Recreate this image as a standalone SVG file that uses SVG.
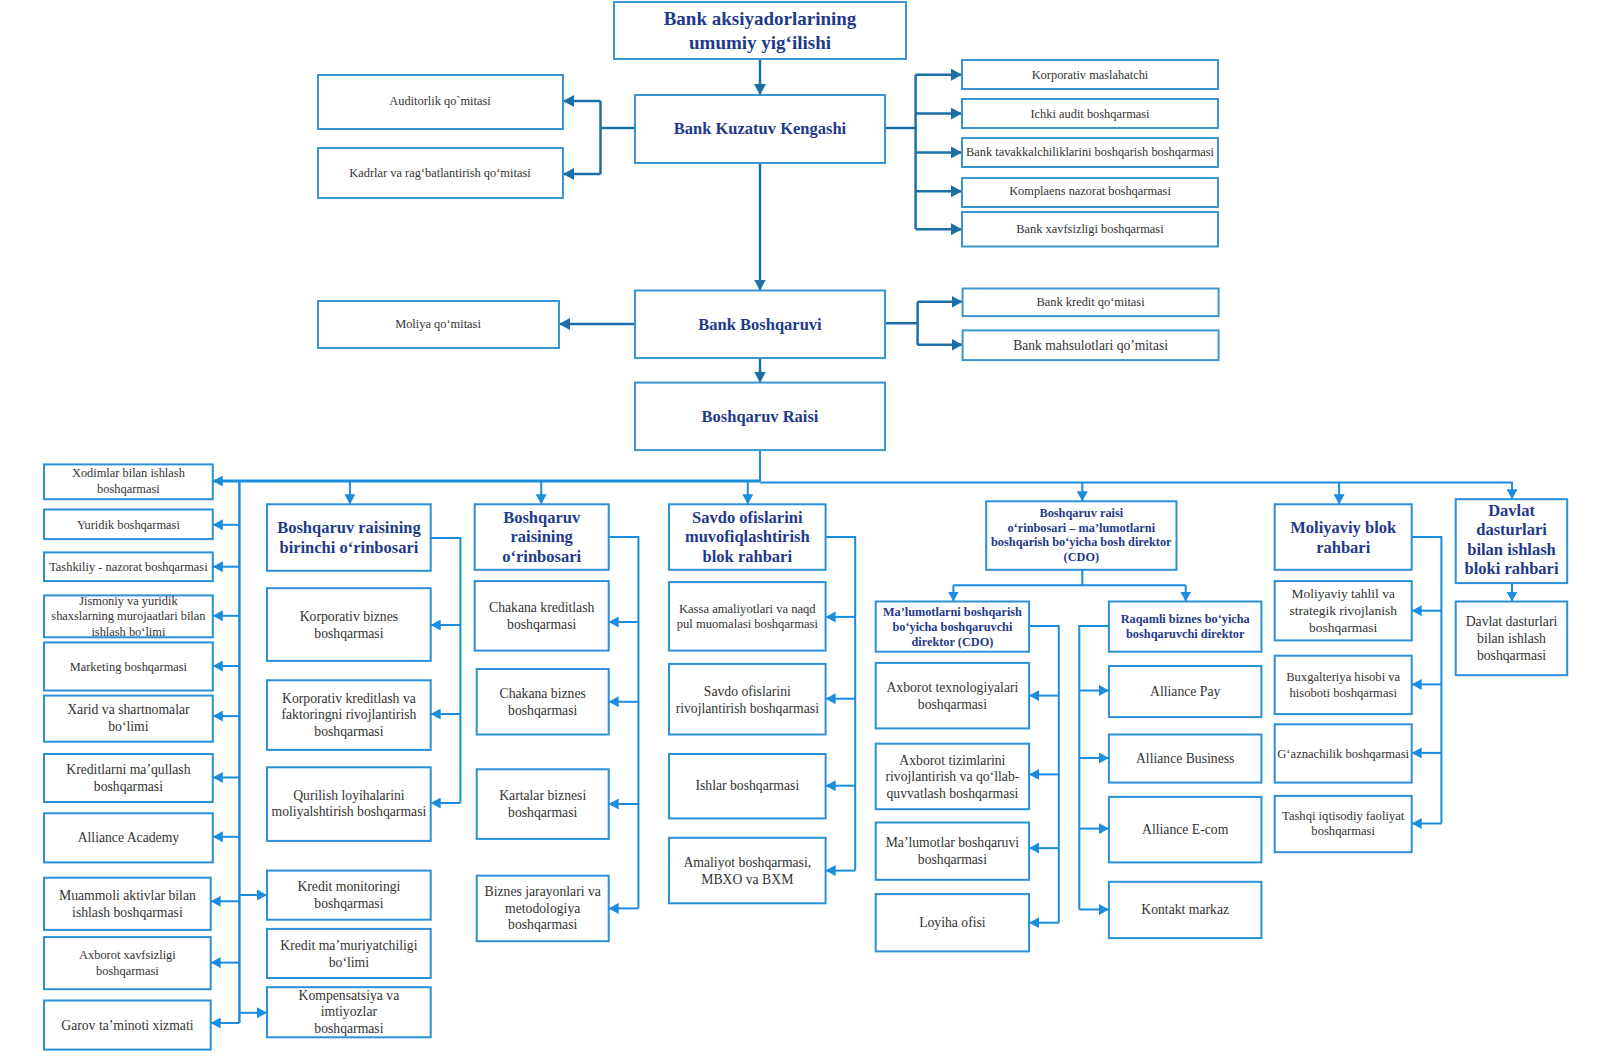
<svg xmlns="http://www.w3.org/2000/svg" width="1604" height="1056" viewBox="0 0 1604 1056">
<defs>
<marker id="ah1" markerUnits="userSpaceOnUse" markerWidth="12" markerHeight="12" refX="11" refY="6" orient="auto"><path d="M0,0 L11,6 L0,12 z" fill="#1b6fa6"/></marker>
<marker id="ah2" markerUnits="userSpaceOnUse" markerWidth="11" markerHeight="11" refX="10" refY="5.5" orient="auto"><path d="M0,0 L10,5.5 L0,11 z" fill="#1a8ddf"/></marker>
</defs>
<style>
.bu{fill:#fff;stroke:#3a96cf;stroke-width:2}
.bl{fill:#fff;stroke:#2a90d8;stroke-width:2}
.t{font-family:"Liberation Serif","Times New Roman",serif;text-anchor:middle;fill:#333}
.h{font-family:"Liberation Serif","Times New Roman",serif;text-anchor:middle;fill:#1f3a8a;font-weight:bold}
.s1{font-size:12.4px}
.s2{font-size:13.7px}
.s3{font-size:12.6px}
.hh{font-size:16.5px}
.hs{font-size:12.3px}
.c1{fill:none;stroke:#1b6fa6;stroke-width:2.5}
.c2{fill:none;stroke:#1a8ddf;stroke-width:2}
.a1{marker-end:url(#ah1)}
.a2{marker-end:url(#ah2)}
</style>
<rect width="1604" height="1056" fill="#fff"/>

<g id="connectors">
<line class="c1 a1" x1="760" y1="59" x2="760" y2="95"/>
<line class="c1" x1="635" y1="128" x2="600.5" y2="128"/>
<line class="c1" x1="600.5" y1="101" x2="600.5" y2="174"/>
<line class="c1 a1" x1="600.5" y1="101" x2="563" y2="101"/>
<line class="c1 a1" x1="600.5" y1="174" x2="563" y2="174"/>
<line class="c1" x1="885" y1="128" x2="915.6" y2="128"/>
<line class="c1" x1="915.6" y1="74.7" x2="915.6" y2="229.2"/>
<line class="c1 a1" x1="915.6" y1="74.7" x2="962" y2="74.7"/>
<line class="c1 a1" x1="915.6" y1="113.6" x2="962" y2="113.6"/>
<line class="c1 a1" x1="915.6" y1="152.4" x2="962" y2="152.4"/>
<line class="c1 a1" x1="915.6" y1="191.3" x2="962" y2="191.3"/>
<line class="c1 a1" x1="915.6" y1="229.2" x2="962" y2="229.2"/>
<line class="c1 a1" x1="760" y1="163" x2="760" y2="290.5"/>
<line class="c1 a1" x1="635" y1="324" x2="559" y2="324"/>
<line class="c1" x1="885" y1="323.3" x2="917.6" y2="323.3"/>
<line class="c1" x1="917.6" y1="301.8" x2="917.6" y2="344.8"/>
<line class="c1 a1" x1="917.6" y1="301.8" x2="962.6" y2="301.8"/>
<line class="c1 a1" x1="917.6" y1="344.8" x2="962.6" y2="344.8"/>
<line class="c1 a1" x1="760" y1="358" x2="760" y2="382.6"/>
<line class="c2" x1="760" y1="450" x2="760" y2="481"/>
<line class="c2 a2" x1="760" y1="481" x2="212.8" y2="481" style="stroke-width:3"/>
<polyline class="c2" points="760,482.5 1512,482.5 1512,490"/>
<line class="c2 a2" x1="349.9" y1="481" x2="349.9" y2="504.3"/>
<line class="c2 a2" x1="541.2" y1="481" x2="541.2" y2="504.3"/>
<line class="c2 a2" x1="747.8" y1="481" x2="747.8" y2="504.3"/>
<line class="c2 a2" x1="1082.3" y1="482.5" x2="1082.3" y2="501.3"/>
<line class="c2 a2" x1="1339.1" y1="482.5" x2="1339.1" y2="504.3"/>
<line class="c2 a2" x1="1512" y1="482.5" x2="1512" y2="499.2"/>
<line class="c2" x1="239.4" y1="481" x2="239.4" y2="1023" style="stroke-width:2.5"/>
<line class="c2 a2" x1="239.4" y1="524.8" x2="212.8" y2="524.8"/>
<line class="c2 a2" x1="239.4" y1="566.7" x2="212.8" y2="566.7"/>
<line class="c2 a2" x1="239.4" y1="615.8" x2="212.8" y2="615.8"/>
<line class="c2 a2" x1="239.4" y1="666" x2="212.8" y2="666"/>
<line class="c2 a2" x1="239.4" y1="716.1" x2="212.8" y2="716.1"/>
<line class="c2 a2" x1="239.4" y1="777.5" x2="212.8" y2="777.5"/>
<line class="c2 a2" x1="239.4" y1="836.8" x2="212.8" y2="836.8"/>
<line class="c2 a2" x1="239.4" y1="901.3" x2="210.7" y2="901.3"/>
<line class="c2 a2" x1="239.4" y1="962.6" x2="210.7" y2="962.6"/>
<line class="c2 a2" x1="239.4" y1="1023" x2="210.7" y2="1023"/>
<line class="c2 a2" x1="239.4" y1="895" x2="267" y2="895"/>
<line class="c2 a2" x1="239.4" y1="1012.8" x2="267" y2="1012.8"/>
<polyline class="c2" points="430.7,538 460.4,538 460.4,803"/>
<line class="c2 a2" x1="460.4" y1="625" x2="430.7" y2="625"/>
<line class="c2 a2" x1="460.4" y1="714" x2="430.7" y2="714"/>
<line class="c2 a2" x1="460.4" y1="803" x2="430.7" y2="803"/>
<polyline class="c2" points="608.7,537 638.4,537 638.4,908.4"/>
<line class="c2 a2" x1="638.4" y1="622" x2="608.7" y2="622"/>
<line class="c2 a2" x1="638.4" y1="701.8" x2="608.7" y2="701.8"/>
<line class="c2 a2" x1="638.4" y1="804" x2="608.7" y2="804"/>
<line class="c2 a2" x1="638.4" y1="908.4" x2="608.7" y2="908.4"/>
<polyline class="c2" points="825.6,537 855.2,537 855.2,870.6"/>
<line class="c2 a2" x1="855.2" y1="616.9" x2="825.6" y2="616.9"/>
<line class="c2 a2" x1="855.2" y1="698.7" x2="825.6" y2="698.7"/>
<line class="c2 a2" x1="855.2" y1="785.7" x2="825.6" y2="785.7"/>
<line class="c2 a2" x1="855.2" y1="870.6" x2="825.6" y2="870.6"/>
<line class="c2" x1="1082.3" y1="569.8" x2="1082.3" y2="585.2"/>
<line class="c2" x1="953.4" y1="585.2" x2="1185.7" y2="585.2"/>
<line class="c2 a2" x1="953.4" y1="585.2" x2="953.4" y2="601.5"/>
<line class="c2 a2" x1="1185.7" y1="585.2" x2="1185.7" y2="601.5"/>
<polyline class="c2" points="1029.1,626 1058.8,626 1058.8,922.7"/>
<line class="c2 a2" x1="1058.8" y1="695.6" x2="1029.1" y2="695.6"/>
<line class="c2 a2" x1="1058.8" y1="774.4" x2="1029.1" y2="774.4"/>
<line class="c2 a2" x1="1058.8" y1="848.1" x2="1029.1" y2="848.1"/>
<line class="c2 a2" x1="1058.8" y1="922.7" x2="1029.1" y2="922.7"/>
<polyline class="c2" points="1108.9,626 1079.3,626 1079.3,909.5"/>
<line class="c2 a2" x1="1079.3" y1="690.5" x2="1108.9" y2="690.5"/>
<line class="c2 a2" x1="1079.3" y1="758" x2="1108.9" y2="758"/>
<line class="c2 a2" x1="1079.3" y1="828.6" x2="1108.9" y2="828.6"/>
<line class="c2 a2" x1="1079.3" y1="909.5" x2="1108.9" y2="909.5"/>
<polyline class="c2" points="1411.7,537 1441.4,537 1441.4,823.5"/>
<line class="c2 a2" x1="1441.4" y1="610.7" x2="1411.7" y2="610.7"/>
<line class="c2 a2" x1="1441.4" y1="684.4" x2="1411.7" y2="684.4"/>
<line class="c2 a2" x1="1441.4" y1="752.9" x2="1411.7" y2="752.9"/>
<line class="c2 a2" x1="1441.4" y1="823.5" x2="1411.7" y2="823.5"/>
<line class="c2 a2" x1="1512" y1="583.1" x2="1512" y2="601.5"/>
</g>

<g id="n_gm"><rect class="bu" x="614" y="2" width="292" height="57"/><text class="h" font-size="19" x="760" y="25">Bank aksiyadorlarining</text><text class="h" font-size="19" x="760" y="48.5">umumiy yig‘ilishi</text></g>
<g id="n_kk"><rect class="bu" x="635" y="95" width="250" height="68"/><text class="h hh" x="760" y="134">Bank Kuzatuv Kengashi</text></g>
<g id="n_aud"><rect class="bu" x="318" y="75" width="245" height="54"/><text class="t s1" x="440" y="105">Auditorlik qo`mitasi</text></g>
<g id="n_kad"><rect class="bu" x="318" y="148" width="245" height="50"/><text class="t s1" x="440" y="177">Kadrlar va rag‘batlantirish qo‘mitasi</text></g>
<g id="n_km"><rect class="bu" x="962" y="60" width="256" height="29"/><text class="t s1" x="1090" y="78.7">Korporativ maslahatchi</text></g>
<g id="n_ia"><rect class="bu" x="962" y="99" width="256" height="29"/><text class="t s1" x="1090" y="117.6">Ichki audit boshqarmasi</text></g>
<g id="n_bt"><rect class="bu" x="962" y="138" width="256" height="29"/><text class="t s1" x="1090" y="156.4">Bank tavakkalchiliklarini boshqarish boshqarmasi</text></g>
<g id="n_kn"><rect class="bu" x="962" y="178" width="256" height="29"/><text class="t s1" x="1090" y="195.3">Komplaens nazorat boshqarmasi</text></g>
<g id="n_bx"><rect class="bu" x="962" y="212" width="256" height="34.5"/><text class="t s1" x="1090" y="233.2">Bank xavfsizligi boshqarmasi</text></g>
<g id="n_bb"><rect class="bu" x="635" y="290.5" width="250" height="67.5"/><text class="h hh" x="760" y="329.5">Bank Boshqaruvi</text></g>
<g id="n_mq"><rect class="bu" x="318" y="301" width="241" height="47"/><text class="t s1" x="438" y="328">Moliya qo‘mitasi</text></g>
<g id="n_bk"><rect class="bu" x="962.6" y="288.5" width="256" height="27.6"/><text class="t s1" x="1090.6" y="306">Bank kredit qo‘mitasi</text></g>
<g id="n_bm"><rect class="bu" x="962.6" y="330.4" width="256" height="29.7"/><text class="t" font-size="13.6" x="1090.6" y="349.5">Bank mahsulotlari qo’mitasi</text></g>
<g id="n_br"><rect class="bu" x="635" y="382.6" width="250" height="67.5"/><text class="h hh" x="760" y="421.5">Boshqaruv Raisi</text></g>

<g id="n_xod"><rect class="bl" x="44" y="464.4" width="168.8" height="34.8"/><text class="t s1" x="128.4" y="477">Xodimlar bilan ishlash</text><text class="t s1" x="128.4" y="492.5">boshqarmasi</text></g>
<g id="n_yur"><rect class="bl" x="44" y="509.5" width="168.8" height="29.6"/><text class="t s1" x="128.4" y="528.5">Yuridik boshqarmasi</text></g>
<g id="n_tash"><rect class="bl" x="44" y="552.4" width="168.8" height="28.7"/><text class="t s1" x="128.4" y="571">Tashkiliy - nazorat boshqarmasi</text></g>
<g id="n_jis"><rect class="bl" x="44" y="595.4" width="168.8" height="41.9"/><text class="t s1" x="128.4" y="604.5">Jismoniy va yuridik</text><text class="t s1" x="128.4" y="620">shaxslarning murojaatlari bilan</text><text class="t s1" x="128.4" y="635.5">ishlash bo‘limi</text></g>
<g id="n_mar"><rect class="bl" x="44" y="642.4" width="168.8" height="48.1"/><text class="t s1" x="128.4" y="670.5">Marketing boshqarmasi</text></g>
<g id="n_xar"><rect class="bl" x="44" y="695.6" width="168.8" height="46.1"/><text class="t s2" x="128.4" y="714">Xarid va shartnomalar</text><text class="t s2" x="128.4" y="731">bo‘limi</text></g>
<g id="n_kre"><rect class="bl" x="44" y="754" width="168.8" height="48"/><text class="t s2" x="128.4" y="774">Kreditlarni ma’qullash</text><text class="t s2" x="128.4" y="791">boshqarmasi</text></g>
<g id="n_aca"><rect class="bl" x="44" y="813.3" width="168.8" height="49.1"/><text class="t s2" x="128.4" y="842">Alliance Academy</text></g>
<g id="n_mua"><rect class="bl" x="44" y="877.7" width="166.7" height="52.2"/><text class="t s2" x="127.4" y="899.5">Muammoli aktivlar bilan</text><text class="t s2" x="127.4" y="916.5">ishlash boshqarmasi</text></g>
<g id="n_axx"><rect class="bl" x="44" y="937.1" width="166.7" height="52.1"/><text class="t s1" x="127.4" y="959">Axborot xavfsizligi</text><text class="t s1" x="127.4" y="974.5">boshqarmasi</text></g>
<g id="n_gar"><rect class="bl" x="44" y="1000.5" width="166.7" height="49.1"/><text class="t s2" x="127.4" y="1029.5">Garov ta’minoti xizmati</text></g>

<g id="n_bro1"><rect class="bl" x="267" y="504.3" width="163.7" height="66.5"/><text class="h hh" x="348.9" y="533">Boshqaruv raisining</text><text class="h hh" x="348.9" y="553">birinchi o‘rinbosari</text></g>
<g id="n_kbb"><rect class="bl" x="267" y="588.2" width="163.7" height="72.7"/><text class="t s2" x="348.9" y="620.5">Korporativ biznes</text><text class="t s2" x="348.9" y="637.5">boshqarmasi</text></g>
<g id="n_kkf"><rect class="bl" x="267" y="680.3" width="163.7" height="69.6"/><text class="t s2" x="348.9" y="702.5">Korporativ kreditlash va</text><text class="t s2" x="348.9" y="719">faktoringni rivojlantirish</text><text class="t s2" x="348.9" y="735.5">boshqarmasi</text></g>
<g id="n_qur"><rect class="bl" x="267" y="767.3" width="163.7" height="73.6"/><text class="t s2" x="348.9" y="799.5">Qurilish loyihalarini</text><text class="t s2" x="348.9" y="816">moliyalshtirish boshqarmasi</text></g>
<g id="n_kmo"><rect class="bl" x="267" y="870.6" width="163.7" height="49.1"/><text class="t s2" x="348.9" y="891">Kredit monitoringi</text><text class="t s2" x="348.9" y="908">boshqarmasi</text></g>
<g id="n_kma"><rect class="bl" x="267" y="928.9" width="163.7" height="49.1"/><text class="t s2" x="348.9" y="949.5">Kredit ma’muriyatchiligi</text><text class="t s2" x="348.9" y="966.5">bo‘limi</text></g>
<g id="n_kom"><rect class="bl" x="267" y="987.2" width="163.7" height="50.1"/><text class="t s2" x="348.9" y="999.5">Kompensatsiya va</text><text class="t s2" x="348.9" y="1016">imtiyozlar</text><text class="t s2" x="348.9" y="1032.5">boshqarmasi</text></g>

<g id="n_bro"><rect class="bl" x="474.7" y="504.3" width="134" height="65.5"/><text class="h hh" x="541.7" y="522.5">Boshqaruv</text><text class="h hh" x="541.7" y="542">raisining</text><text class="h hh" x="541.7" y="561.5">o‘rinbosari</text></g>
<g id="n_chk"><rect class="bl" x="474.7" y="581.1" width="134" height="69.5"/><text class="t s2" x="541.7" y="612">Chakana kreditlash</text><text class="t s2" x="541.7" y="629">boshqarmasi</text></g>
<g id="n_chb"><rect class="bl" x="476.7" y="669" width="132" height="65.5"/><text class="t s2" x="542.7" y="697.5">Chakana biznes</text><text class="t s2" x="542.7" y="714.5">boshqarmasi</text></g>
<g id="n_kar"><rect class="bl" x="476.7" y="769.3" width="132" height="69.6"/><text class="t s2" x="542.7" y="800">Kartalar biznesi</text><text class="t s2" x="542.7" y="817">boshqarmasi</text></g>
<g id="n_bjm"><rect class="bl" x="476.7" y="875.7" width="132" height="65.5"/><text class="t s2" x="542.7" y="896">Biznes jarayonlari va</text><text class="t s2" x="542.7" y="912.5">metodologiya</text><text class="t s2" x="542.7" y="929">boshqarmasi</text></g>

<g id="n_sav"><rect class="bl" x="669" y="504.3" width="156.6" height="65.5"/><text class="h hh" x="747.3" y="522.5">Savdo ofislarini</text><text class="h hh" x="747.3" y="542">muvofiqlashtirish</text><text class="h hh" x="747.3" y="561.5">blok rahbari</text></g>
<g id="n_kas"><rect class="bl" x="669" y="582.1" width="156.6" height="68.5"/><text class="t s3" x="747.3" y="612.5">Kassa amaliyotlari va naqd</text><text class="t s3" x="747.3" y="628">pul muomalasi boshqarmasi</text></g>
<g id="n_sor"><rect class="bl" x="669" y="663.9" width="156.6" height="70.6"/><text class="t s2" x="747.3" y="695.5">Savdo ofislarini</text><text class="t s2" x="747.3" y="712.5">rivojlantirish boshqarmasi</text></g>
<g id="n_ish"><rect class="bl" x="669" y="754" width="156.6" height="64.4"/><text class="t s2" x="747.3" y="790">Ishlar boshqarmasi</text></g>
<g id="n_ama"><rect class="bl" x="669" y="837.8" width="156.6" height="65.5"/><text class="t s2" x="747.3" y="866.5">Amaliyot boshqarmasi,</text><text class="t s2" x="747.3" y="883.5">MBXO va BXM</text></g>

<g id="n_cdo"><rect class="bl" x="986.2" y="501.3" width="190.3" height="68.5"/><text class="h hs" x="1081.3" y="517">Boshqaruv raisi</text><text class="h hs" x="1081.3" y="531.5">o‘rinbosari – ma’lumotlarni</text><text class="h hs" x="1081.3" y="546">boshqarish bo‘yicha bosh direktor</text><text class="h hs" x="1081.3" y="560.5">(CDO)</text></g>
<g id="n_mbd"><rect class="bl" x="875.7" y="601.5" width="153.4" height="50.2"/><text class="h hs" x="952.4" y="615.5">Ma’lumotlarni boshqarish</text><text class="h hs" x="952.4" y="630.5">bo‘yicha boshqaruvchi</text><text class="h hs" x="952.4" y="645.5">direktor (CDO)</text></g>
<g id="n_rbd"><rect class="bl" x="1108.9" y="601.5" width="152.5" height="50.2"/><text class="h hs" x="1185.2" y="622.5">Raqamli biznes bo‘yicha</text><text class="h hs" x="1185.2" y="638">boshqaruvchi direktor</text></g>
<g id="n_atx"><rect class="bl" x="875.7" y="662.9" width="153.4" height="65.5"/><text class="t s2" x="952.4" y="692">Axborot texnologiyalari</text><text class="t s2" x="952.4" y="709">boshqarmasi</text></g>
<g id="n_ati"><rect class="bl" x="875.7" y="743.7" width="153.4" height="65.5"/><text class="t s2" x="952.4" y="764.5">Axborot tizimlarini</text><text class="t s2" x="952.4" y="781">rivojlantirish va qo‘llab-</text><text class="t s2" x="952.4" y="797.5">quvvatlash boshqarmasi</text></g>
<g id="n_mlb"><rect class="bl" x="875.7" y="822.5" width="153.4" height="57.3"/><text class="t s2" x="952.4" y="847">Ma’lumotlar boshqaruvi</text><text class="t s2" x="952.4" y="864">boshqarmasi</text></g>
<g id="n_loy"><rect class="bl" x="875.7" y="894.1" width="153.4" height="57.3"/><text class="t s2" x="952.4" y="927">Loyiha ofisi</text></g>
<g id="n_apay"><rect class="bl" x="1108.9" y="666" width="152.5" height="51.1"/><text class="t s2" x="1185.2" y="695.5">Alliance Pay</text></g>
<g id="n_abus"><rect class="bl" x="1108.9" y="734.5" width="152.5" height="48.1"/><text class="t s2" x="1185.2" y="762.5">Alliance Business</text></g>
<g id="n_aeco"><rect class="bl" x="1108.9" y="796.9" width="152.5" height="65.5"/><text class="t s2" x="1185.2" y="833.5">Alliance E-com</text></g>
<g id="n_kon"><rect class="bl" x="1108.9" y="881.8" width="152.5" height="56.3"/><text class="t s2" x="1185.2" y="914">Kontakt markaz</text></g>

<g id="n_mol"><rect class="bl" x="1274.7" y="504.3" width="137" height="65.5"/><text class="h hh" x="1343.2" y="532.5">Moliyaviy blok</text><text class="h hh" x="1343.2" y="552.5">rahbari</text></g>
<g id="n_mts"><rect class="bl" x="1274.7" y="581.1" width="137" height="59.3"/><text class="t" font-size="13.5" x="1343.2" y="598">Moliyaviy tahlil va</text><text class="t" font-size="13.5" x="1343.2" y="615">strategik rivojlanish</text><text class="t" font-size="13.5" x="1343.2" y="632">boshqarmasi</text></g>
<g id="n_bux"><rect class="bl" x="1274.7" y="655.7" width="137" height="58.4"/><text class="t s3" x="1343.2" y="681">Buxgalteriya hisobi va</text><text class="t s3" x="1343.2" y="696.5">hisoboti boshqarmasi</text></g>
<g id="n_gaz"><rect class="bl" x="1274.7" y="724.3" width="137" height="58.3"/><text class="t s3" x="1343.2" y="757.5">G‘aznachilik boshqarmasi</text></g>
<g id="n_tif"><rect class="bl" x="1274.7" y="795.9" width="137" height="56.3"/><text class="t s3" x="1343.2" y="819.5">Tashqi iqtisodiy faoliyat</text><text class="t s3" x="1343.2" y="835">boshqarmasi</text></g>

<g id="n_dav"><rect class="bl" x="1455.7" y="499.2" width="111.5" height="83.9"/><text class="h hh" x="1511.5" y="515.5">Davlat</text><text class="h hh" x="1511.5" y="535">dasturlari</text><text class="h hh" x="1511.5" y="554.5">bilan ishlash</text><text class="h hh" x="1511.5" y="574">bloki rahbari</text></g>
<g id="n_dab"><rect class="bl" x="1455.7" y="601.5" width="111.5" height="73.7"/><text class="t s2" x="1511.5" y="625.5">Davlat dasturlari</text><text class="t s2" x="1511.5" y="642.5">bilan ishlash</text><text class="t s2" x="1511.5" y="659.5">boshqarmasi</text></g>
</svg>
